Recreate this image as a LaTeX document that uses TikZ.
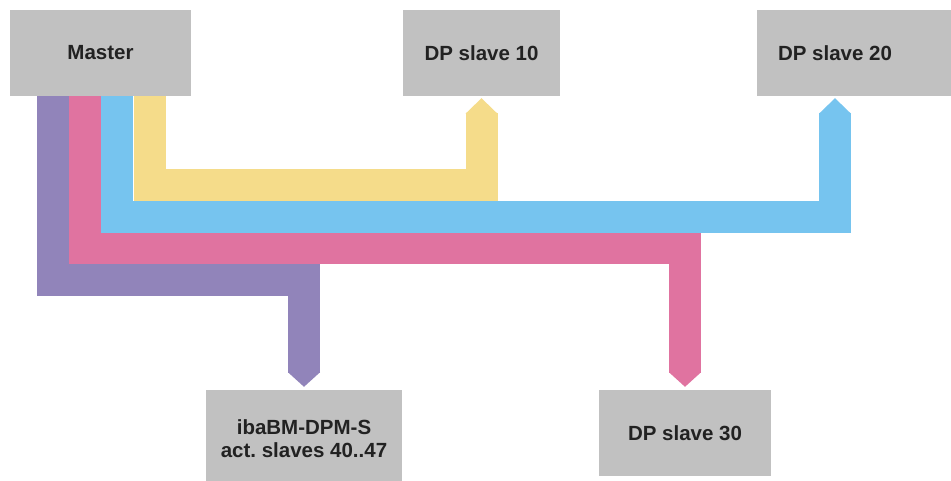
\documentclass[tikz,border=0pt]{standalone}
\usepackage{fontspec}
\setmainfont{Liberation Sans}
\frenchspacing
\definecolor{boxgray}{HTML}{C1C1C1}
\definecolor{cyel}{HTML}{F5DC8A}
\definecolor{cblu}{HTML}{76C4EF}
\definecolor{cpink}{HTML}{E073A0}
\definecolor{cpurp}{HTML}{9184BA}
\definecolor{txt}{HTML}{222222}
\begin{document}
\begin{tikzpicture}[x=1pt,y=-1pt,
  box/.style={fill=boxgray, inner sep=0pt, text=txt, font=\bfseries\fontsize{20.5}{23}\selectfont, align=center},
  lbl/.style={inner sep=0pt, text=txt, font=\bfseries\fontsize{20.5}{23}\selectfont, align=center},
  band/.style={line width=32pt, line join=miter, line cap=butt}]
\useasboundingbox (0,0) rectangle (951,481);
% boxes
\node[box, minimum width=181pt, minimum height=86pt] (master) at (100.5,53) {Master};
\node[box, minimum width=157pt, minimum height=86pt] (s10) at (481.5,53) {DP slave 10};
\node[box, minimum width=194pt, minimum height=86pt] (s20box) at (854,53) {};
\node[lbl] (s20) at (835,53) {DP slave 20};
\node[box, minimum width=172pt, minimum height=86pt] (s30) at (685,433) {DP slave 30};
\node[box, minimum width=196pt, minimum height=91pt] (iba) at (304,435.5) {};
\node[lbl] (ibatext) at (304,439) {ibaBM-DPM-S\\act.\ slaves 40..47};
\coordinate (t20) at (s20 |- s20box.south);
% purple
\draw[band,cpurp] ([xshift=43pt]master.south west) -- ++(0,183.5) -| ([yshift=17pt]iba.north);
\fill[cpurp] ([xshift=-16pt,yshift=17.5pt]iba.north) -- ([yshift=3pt]iba.north) -- ([xshift=16pt,yshift=17.5pt]iba.north) -- cycle;
% pink
\draw[band,cpink] ([xshift=75pt]master.south west) -- ++(0,152) -| ([yshift=17pt]s30.north);
\fill[cpink] ([xshift=-16pt,yshift=17.5pt]s30.north) -- ([yshift=3pt]s30.north) -- ([xshift=16pt,yshift=17.5pt]s30.north) -- cycle;
% blue
\draw[band,cblu] ([xshift=107.5pt]master.south west) -- ++(0,120.5) -| ([yshift=-17pt]t20);
\fill[cblu] ([xshift=-16pt,yshift=-17.5pt]t20) -- ([yshift=-2pt]t20) -- ([xshift=16pt,yshift=-17.5pt]t20) -- cycle;
% yellow
\draw[band,cyel] ([xshift=140pt]master.south west) -- ++(0,89) -| ([yshift=-17pt]s10.south);
\fill[cyel] ([xshift=-16pt,yshift=-17.5pt]s10.south) -- ([yshift=-2pt]s10.south) -- ([xshift=16pt,yshift=-17.5pt]s10.south) -- cycle;
\end{tikzpicture}
\end{document}
